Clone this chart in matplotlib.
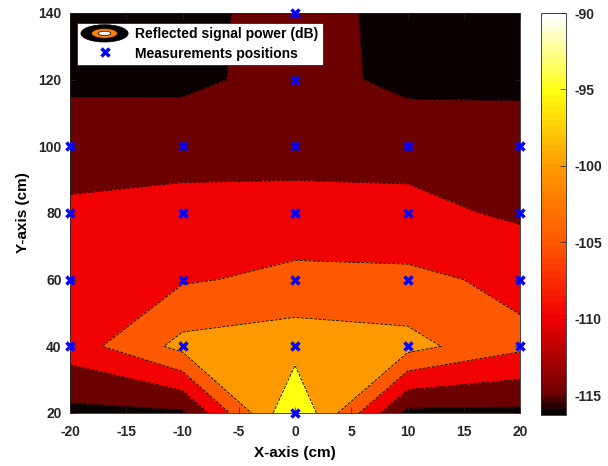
import numpy as np
import matplotlib
matplotlib.use("Agg")
import matplotlib.pyplot as plt
from matplotlib.colors import Normalize, LinearSegmentedColormap
from matplotlib.cm import ScalarMappable
from matplotlib.patches import Ellipse, Patch
from matplotlib.legend_handler import HandlerBase
from matplotlib.lines import Line2D

plt.rcParams['font.family'] = ['Liberation Sans', 'DejaVu Sans']
plt.rcParams['font.weight'] = 'bold'
plt.rcParams['axes.labelweight'] = 'bold'
plt.rcParams['axes.unicode_minus'] = False

# measurement grid (cm)
x_cm = [-20, -10, 0, 10, 20]
y_cm = [20, 40, 60, 80, 100, 120, 140]

# reflected signal power (dB), one row per y position
power_db = [
    [-116.3, -115.8, -90.0, -116.3, -116.1],
    [-107.6, -98.5, -97.0, -98.3, -104.0],
    [-108.0, -105.5, -103.9, -103.9, -106.1],
    [-109.5, -108.9, -107.7, -108.6, -110.8],
    [-111.3, -111.3, -112.4, -111.8, -112.2],
    [-116.3, -116.3, -113.0, -116.3, -116.3],
    [-116.3, -116.3, -113.3, -116.3, -116.3],
]

levels = [-115, -110, -105, -100, -95]

# points where the power was actually measured
meas_x = [-20, -10, 0, 10, 20] * 4 + [0, 0, 0]
meas_y = [40] * 5 + [60] * 5 + [80] * 5 + [100] * 5 + [20, 120, 140]

cbar_ticks = [-115, -110, -105, -100, -95, -90]

# hot-like colormap anchored on dB values
cmap_db = [-116.3, -115, -110, -105, -100, -95, -90]
cmap_rgb = [(0.04, 0, 0), (0.44, 0, 0), (0.95, 0, 0), (1, 0.35, 0),
            (1, 0.6, 0), (1, 1, 0.06), (1, 1, 1)]


class HandlerRings(HandlerBase):
    # small nested-ellipse icon for the filled contour entry
    def create_artists(self, legend, orig_handle, xdescent, ydescent,
                       width, height, fontsize, trans):
        cx = width / 2 - xdescent
        cy = height / 2 - ydescent
        outer = Ellipse((cx, cy), width, height * 1.5, fc='black', ec='black', lw=0.5)
        mid = Ellipse((cx, cy), width * 0.55, height * 0.85, fc='#ff7f00', ec='black', lw=0.5)
        inner = Ellipse((cx, cy), width * 0.27, height * 0.38, fc='white', ec='black', lw=0.5)
        arts = [outer, mid, inner]
        for a in arts:
            a.set_transform(trans)
        return arts


X, Y = np.meshgrid(x_cm, y_cm)
Z = np.array(power_db)
zmin, zmax = Z.min(), Z.max()

norm = Normalize(zmin, zmax)
anchors = [(norm(v), c) for v, c in zip(cmap_db, cmap_rgb)]
cmap = LinearSegmentedColormap.from_list('hotdb', anchors, N=64)

# each band takes the colour of its lower level
fill_colors = [cmap(norm(zmin))] + [cmap(norm(l)) for l in levels]

fig = plt.figure(figsize=(6.08, 4.66), dpi=100)
ax = fig.add_axes([70 / 608, 53 / 466, 450 / 608, 400 / 466])

bounds = [zmin - 0.5] + levels + [zmax + 0.5]
ax.contourf(X, Y, Z, levels=bounds, colors=fill_colors)
ax.contour(X, Y, Z, levels=levels, colors='black', linewidths=0.6)

ax.plot(meas_x, meas_y, linestyle='none', marker='x', color='blue',
        markersize=6, markeredgewidth=2.5, clip_on=False, zorder=5)

ax.set_xlim(-20, 20)
ax.set_ylim(20, 140)
ax.set_xticks(np.arange(-20, 21, 5))
ax.set_yticks(np.arange(20, 141, 20))
ax.tick_params(direction='in', top=True, right=True, length=4, width=0.5,
               labelsize=10, colors='#262626', pad=6)
ax.tick_params(axis='x', pad=9)
for s in ax.spines.values():
    s.set_color('#262626')
    s.set_linewidth(0.6)
ax.set_xlabel('X-axis (cm)', fontsize=11, labelpad=5)
ax.set_ylabel('Y-axis (cm)', fontsize=11, labelpad=6)

handles = [Patch(), Line2D([], [], linestyle='none', marker='x', color='blue',
                           markersize=6, markeredgewidth=2.5)]
leg = ax.legend(handles, ['Reflected signal power (dB)', 'Measurements positions'],
                handler_map={Patch: HandlerRings()}, loc='upper left',
                bbox_to_anchor=(0.015, 0.975), fancybox=False, framealpha=1,
                edgecolor='#262626', fontsize=10, handlelength=3.4,
                handleheight=0.9, handletextpad=0.5, borderpad=0.3,
                labelspacing=0.4, borderaxespad=0)
leg.get_frame().set_linewidth(0.6)

cax = fig.add_axes([541 / 608, 51 / 466, 25 / 608, 402 / 466])
sm = ScalarMappable(norm=norm, cmap=cmap)
cb = fig.colorbar(sm, cax=cax, ticks=cbar_ticks)
cb.outline.set_linewidth(0.6)
cb.outline.set_edgecolor('#262626')
cax.tick_params(direction='in', length=4, width=0.5, labelsize=10,
                colors='#262626', pad=6)

fig.savefig('out.png', dpi=100, facecolor='white')
